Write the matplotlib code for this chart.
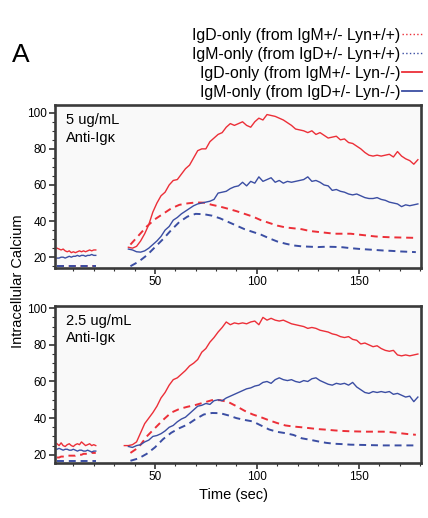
import numpy as np
import matplotlib.pyplot as plt
from matplotlib.lines import Line2D
from matplotlib.ticker import MultipleLocator

plt.rcParams['font.family'] = ['Liberation Sans', 'DejaVu Sans']
plt.rcParams['lines.scale_dashes'] = False

RED = '#ec2f38'
BLUE = '#3b4ea3'

# time grids (sec)
t_pre = np.arange(2, 22, 1)          # before stimulation
t_solid = np.arange(37, 181, 2)      # Lyn-/- traces
t_solid_b = np.arange(35, 181, 2)    # 2.5 ug/mL IgD Lyn-/- trace
t_dash = np.arange(38, 181, 4)       # Lyn+/+ traces

# ---- panel 1: 5 ug/mL ----
p1_red_solid_pre = [25, 24.5, 24, 24.5, 23.5, 23, 23.5, 22.5, 23, 22.5,
                    23, 23.5, 23, 23.5, 23, 23.5, 24, 23.5, 24, 24]
p1_blue_solid_pre = [19.5, 19.5, 20, 20, 19.5, 20, 20.5, 20, 20.5, 20.5,
                     21, 20.5, 21, 21, 20.5, 21, 21, 21.5, 21, 21]
p1_red_dash_pre = [15] * 20
p1_blue_dash_pre = [15] * 20

p1_red_solid = [25.5, 25, 26, 29, 33, 38, 45, 50, 54, 56,
                60, 62.5, 63, 66, 69, 71, 75, 79, 80, 80,
                84, 86, 88, 89, 92, 94, 93, 94, 95, 93,
                92, 95, 97, 96, 99, 98.5, 98, 97, 96, 94.5,
                93, 91, 90.5, 90, 89, 90, 88, 89, 87.5, 86,
                86.5, 87, 85, 85.5, 83.5, 83, 81.5, 80, 78, 76.5,
                76, 76.5, 76, 76.5, 77, 75.5, 78.5, 76, 74.5, 73.5,
                71.5, 74]
p1_blue_solid = [24.5, 24, 23, 22.8, 23.5, 25, 27, 29, 31.5, 35,
                 37, 40.5, 42, 44, 45.5, 47, 48.5, 49.5, 50, 50.5,
                 51, 52, 55.5, 56, 56.5, 58, 59, 59.5, 61.5, 59.5,
                 62, 61, 64.5, 62, 63, 64, 61.5, 62.5, 61, 62,
                 61.5, 62, 62.5, 63, 64.5, 62, 62.5, 61.5, 60, 59.5,
                 57, 57.5, 56.5, 56, 55, 54.5, 55, 54, 53, 52.5,
                 52.5, 53, 52, 51.5, 50.5, 50, 49.5, 48, 49, 48.5,
                 49, 49.5]
p1_red_dash = [27, 32, 37, 41, 44, 47, 49, 49.8, 50.3, 50.2,
               49, 48, 46.8, 45.5, 44, 42.5, 40.5, 39, 37.5, 36.5,
               36, 35.5, 34.5, 34, 33.5, 33, 33, 33, 32.5, 32,
               31.5, 31.2, 31, 30.9, 30.8, 30.7]
p1_blue_dash = [15, 17.5, 21, 25.5, 30, 35, 39.5, 42.5, 44, 43.8,
                43, 41.5, 39.5, 37.5, 35.5, 34, 32.5, 30.5, 28.7, 27.5,
                26.5, 26, 25.8, 25.6, 25.8, 25.7, 25.5, 25, 24.6, 24.3,
                24, 23.7, 23.5, 23.2, 23, 22.8]

# ---- panel 2: 2.5 ug/mL ----
p2_red_solid_pre = [26, 25, 26.5, 25, 24.5, 25.5, 26, 25, 24.5, 25.5,
                    26, 25.5, 27, 26, 25, 25.5, 26, 25, 25.5, 25]
p2_blue_solid_pre = [23, 23.5, 23, 22.5, 23, 23, 22.5, 22.5, 23, 22.5,
                     22, 22.5, 22.5, 22, 22, 22.5, 22, 21.5, 22, 22]
p2_red_dash_pre = [18.5, 18.5, 19, 19, 19, 19.5, 19.5, 19.5, 19.5, 19.5,
                   20, 20, 20, 20.5, 20.5, 20.5, 20.5, 21, 21, 21]
p2_blue_dash_pre = [16.5] * 20

p2_red_solid = [25, 25, 25.5, 27, 32, 37, 40, 43, 46.5, 51,
                54, 58, 61, 62, 64, 66, 68.5, 70, 72, 76,
                78, 81.5, 84, 87, 89.5, 92.5, 91, 92, 91.5, 92,
                91.5, 92.5, 93, 91, 95, 93.5, 94.5, 93.5, 93, 93.5,
                92.5, 91.5, 91, 90.5, 90, 89, 89.5, 89, 88, 87.5,
                87, 86, 85.5, 84.5, 84, 84.5, 83, 82.5, 80.5, 81,
                80, 79, 79.5, 78, 77, 76.5, 77, 74.5, 74, 74.5,
                74, 74.5, 75]
p2_blue_solid = [24.5, 24, 25, 25.5, 27, 28, 30, 30.5, 31.5, 33,
                 35, 36, 38, 39.5, 40.5, 42.5, 44.5, 46.5, 47, 48,
                 47.5, 49.5, 50, 49.5, 51, 52, 53, 54, 55, 56,
                 56.5, 57.5, 58, 59.5, 60, 59, 61, 62, 61, 60.5,
                 61, 60, 59.5, 60.5, 60, 61.5, 62, 60.5, 59.5, 58.5,
                 58, 59, 58.5, 59, 58, 59.5, 57, 55.5, 54, 53.5,
                 54.5, 54, 54.5, 54, 54.5, 53, 53.5, 52.5, 51.5, 52,
                 49, 51.5]
p2_red_dash = [21, 24, 30, 34.5, 39, 43, 45, 46.2, 47.2, 48.5,
               49.8, 49.8, 48.8, 46.5, 44, 42, 40.5, 38.8, 37.3, 36,
               35.4, 35, 34.5, 34, 33.7, 33.3, 33, 32.8, 32.7, 32.6,
               32.6, 32.6, 32.3, 31.8, 31.3, 30.9]
p2_blue_dash = [16.7, 18, 20.5, 24, 28.5, 32, 34.5, 36.5, 39.5, 42,
                42.8, 42.7, 41.5, 40, 39, 38.2, 36, 33.8, 32.5, 31.8,
                30.8, 29, 28.2, 27.3, 26.5, 26, 25.8, 25.5, 25.4, 25.3,
                25.2, 25.1, 25.1, 25.1, 25.1, 25.1]

legend_labels = ['IgD-only (from IgM+/- Lyn+/+)',
                 'IgM-only (from IgD+/- Lyn+/+)',
                 'IgD-only (from IgM+/- Lyn-/-)',
                 'IgM-only (from IgD+/- Lyn-/-)']

DASH = (0, (5, 3.5))


def draw_panel(ax, pre, rs, bs, rd, bd, t_rs, title, ylim):
    """Draw one calcium flux panel."""
    rs_pre, bs_pre, rd_pre, bd_pre = pre
    ax.set_facecolor('#f9f9f9')
    # Lyn+/+ (dashed)
    ax.plot(t_pre, rd_pre, color=RED, lw=1.4, ls=DASH)
    ax.plot(t_pre, bd_pre, color=BLUE, lw=1.4, ls=DASH)
    ax.plot(t_dash, rd, color=RED, lw=1.4, ls=DASH)
    ax.plot(t_dash, bd, color=BLUE, lw=1.4, ls=DASH)
    # Lyn-/- (solid)
    ax.plot(t_pre, rs_pre, color=RED, lw=1.0)
    ax.plot(t_pre, bs_pre, color=BLUE, lw=1.0)
    ax.plot(t_rs, rs, color=RED, lw=1.0)
    ax.plot(t_solid, bs, color=BLUE, lw=1.0)

    ax.set_xlim(1, 180.5)
    ax.set_ylim(*ylim)
    ax.xaxis.set_major_locator(MultipleLocator(50))
    ax.xaxis.set_minor_locator(MultipleLocator(10))
    ax.yaxis.set_major_locator(MultipleLocator(20))
    ax.yaxis.set_minor_locator(MultipleLocator(5))
    ax.tick_params(which='major', length=4, width=1.2, color='#333333',
                   labelsize=8.5, pad=2)
    ax.tick_params(which='minor', length=2, width=0.8, color='#333333')
    for s in ax.spines.values():
        s.set_linewidth(1.9)
        s.set_color('#3a3a3a')
    ax.text(0.03, 0.95, title, transform=ax.transAxes, ha='left', va='top',
            fontsize=10.5, linespacing=1.35)


fig = plt.figure(figsize=(4.28, 5.18), dpi=100)
ax1 = fig.add_axes([0.1285, 0.4826, 0.855, 0.3147])
ax2 = fig.add_axes([0.1285, 0.1062, 0.855, 0.3037])

draw_panel(ax1, (p1_red_solid_pre, p1_blue_solid_pre, p1_red_dash_pre, p1_blue_dash_pre),
           p1_red_solid, p1_blue_solid, p1_red_dash, p1_blue_dash, t_solid,
           '5 ug/mL\nAnti-Igκ', (14, 104.3))
draw_panel(ax2, (p2_red_solid_pre, p2_blue_solid_pre, p2_red_dash_pre, p2_blue_dash_pre),
           p2_red_solid, p2_blue_solid, p2_red_dash, p2_blue_dash, t_solid_b,
           '2.5 ug/mL\nAnti-Igκ', (15.5, 101.4))

handles = [Line2D([], [], color=RED, lw=1.0, ls=':'),
           Line2D([], [], color=BLUE, lw=1.0, ls=':'),
           Line2D([], [], color=RED, lw=1.3),
           Line2D([], [], color=BLUE, lw=1.3)]
fig.legend(handles, legend_labels, loc='upper right',
           bbox_to_anchor=(0.986, 0.946), frameon=False, markerfirst=False,
           fontsize=11.4, handlelength=1.25, handletextpad=0.12,
           labelspacing=0.25, borderpad=0, borderaxespad=0)

fig.text(0.028, 0.880, 'A', fontsize=19, ha='left', va='baseline')
fig.text(0.042, 0.4575, 'Intracellular Calcium', rotation=90,
         ha='center', va='center', fontsize=10.5)
fig.text(0.545, 0.0444, 'Time (sec)', ha='center', va='center', fontsize=10.5)

fig.savefig('out.png', dpi=100)
